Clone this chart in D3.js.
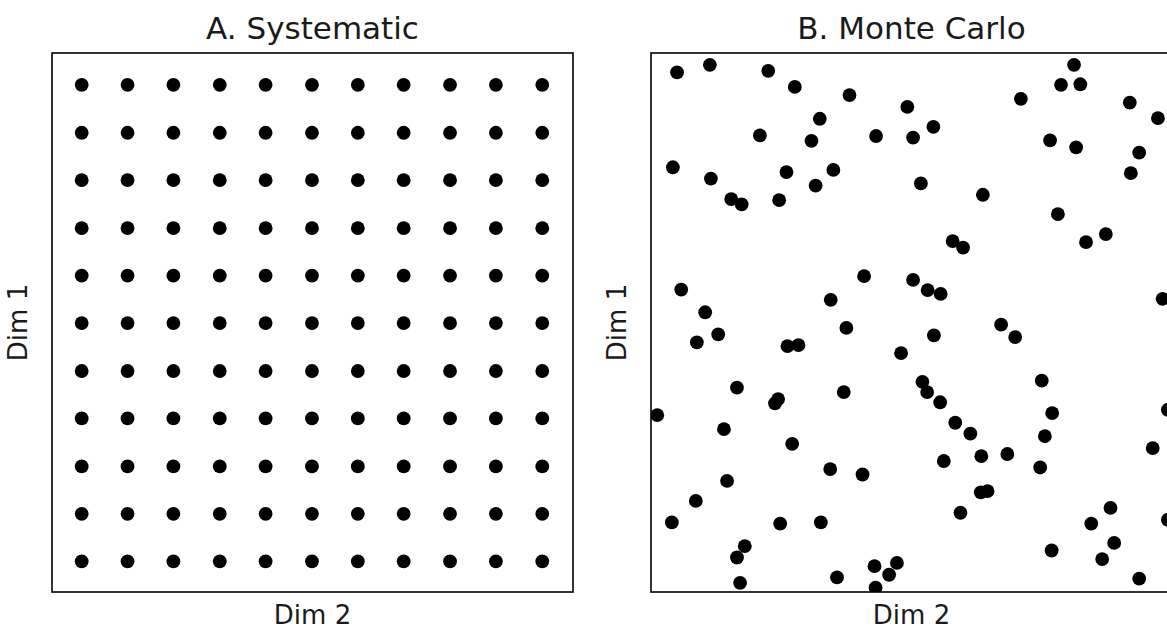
<!DOCTYPE html>
<html>
<head>
<meta charset="utf-8">
<script src="https://cdn.jsdelivr.net/npm/d3@7"></script>
<style>
    body { margin: 0; background: #fff; }
    svg { display: block; font-family: "DejaVu Sans", sans-serif; }
</style>
</head>
<body>
<svg id="vis"></svg>
<script>
// grid levels used for both dims in the systematic panel
var gridLevels = [0.057, 0.145, 0.233, 0.322, 0.410, 0.499, 0.587, 0.675, 0.764, 0.852, 0.941];

// Monte Carlo samples (0..1 on each dim)
var mcDim2 = [
    0.050, 0.113, 0.225, 0.276, 0.324, 0.209, 0.308, 0.042, 0.115, 0.260,
    0.316, 0.154, 0.174, 0.246, 0.058, 0.104, 0.381, 0.492, 0.542, 0.432,
    0.503, 0.350, 0.518, 0.637, 0.579, 0.599, 0.409, 0.503, 0.531, 0.556,
    0.345, 0.812, 0.787, 0.824, 0.710, 0.919, 0.973, 0.766, 0.816, 0.937,
    0.921, 0.781, 0.835, 0.873, 0.982, 0.088, 0.129, 0.262, 0.283, 0.165,
    0.244, 0.238, 0.012, 0.140, 0.271, 0.146, 0.086, 0.040, 0.248, 0.326,
    0.180, 0.165, 0.171, 0.375, 0.543, 0.480, 0.521, 0.530, 0.555, 0.370,
    0.584, 0.613, 0.634, 0.562, 0.344, 0.406, 0.633, 0.646, 0.594, 0.429,
    0.472, 0.457, 0.357, 0.431, 0.672, 0.699, 0.750, 0.770, 0.756, 0.684,
    0.747, 0.963, 0.992, 0.992, 0.882, 0.845, 0.889, 0.769, 0.866, 0.937
];
var mcDim1 = [
    0.964, 0.978, 0.967, 0.937, 0.878, 0.847, 0.837, 0.788, 0.767, 0.779,
    0.754, 0.729, 0.719, 0.727, 0.561, 0.519, 0.922, 0.900, 0.863, 0.846,
    0.843, 0.783, 0.758, 0.737, 0.651, 0.639, 0.586, 0.579, 0.560, 0.553,
    0.542, 0.978, 0.941, 0.942, 0.915, 0.908, 0.879, 0.838, 0.825, 0.815,
    0.777, 0.701, 0.649, 0.664, 0.544, 0.463, 0.478, 0.456, 0.458, 0.379,
    0.358, 0.350, 0.328, 0.302, 0.275, 0.206, 0.169, 0.129, 0.127, 0.129,
    0.085, 0.064, 0.017, 0.490, 0.476, 0.443, 0.390, 0.371, 0.352, 0.371,
    0.314, 0.294, 0.252, 0.243, 0.228, 0.218, 0.185, 0.187, 0.147, 0.048,
    0.054, 0.032, 0.027, 0.008, 0.496, 0.473, 0.392, 0.332, 0.289, 0.256,
    0.231, 0.267, 0.338, 0.134, 0.156, 0.127, 0.091, 0.077, 0.061, 0.025
];

var panelTitles = ["A. Systematic", "B. Monte Carlo"];
var xLabel = "Dim 2";
var yLabel = "Dim 1";

var systematicData = [];
gridLevels.forEach(function (gy) {
    gridLevels.forEach(function (gx) {
        systematicData.push({x: gx, y: gy});
    });
});
var monteCarloData = mcDim2.map(function (d, i) {
    return {x: d, y: mcDim1[i]};
});

var width = 1167, height = 629;
var panelW = 521, panelH = 539;
var panelLefts = [52, 651];
var panelTop = 53;

var svg = d3.select("#vis")
    .attr("width", width)
    .attr("height", height);

var xScale = d3.scaleLinear().domain([0, 1]).range([0, panelW]);
var yScale = d3.scaleLinear().domain([0, 1]).range([panelH, 0]);

function drawPanel(idx, data) {
    var g = svg.append("g")
        .attr("transform", "translate(" + panelLefts[idx] + "," + panelTop + ")");

    g.append("clipPath")
        .attr("id", "clip" + idx)
        .append("rect")
        .attr("width", panelW)
        .attr("height", panelH);

    g.append("g")
        .attr("clip-path", "url(#clip" + idx + ")")
        .selectAll(".dot")
        .data(data)
        .enter().append("circle")
        .attr("class", "dot")
        .attr("r", 6.9)
        .attr("cx", function (d) { return xScale(d.x); })
        .attr("cy", function (d) { return yScale(d.y); })
        .style("fill", "#000");

    g.append("rect")
        .attr("width", panelW)
        .attr("height", panelH)
        .style("fill", "none")
        .style("stroke", "#000")
        .style("stroke-width", 1.6);

    g.append("text")
        .attr("x", panelW / 2)
        .attr("y", -14)
        .style("text-anchor", "middle")
        .style("font-size", "31px")
        .style("fill", "#1a1a1a")
        .text(panelTitles[idx]);

    g.append("text")
        .attr("x", panelW / 2)
        .attr("y", panelH + 32)
        .style("text-anchor", "middle")
        .style("font-size", "26px")
        .style("fill", "#1a1a1a")
        .text(xLabel);

    g.append("text")
        .attr("transform", "translate(-25," + (panelH / 2) + ") rotate(-90)")
        .style("text-anchor", "middle")
        .style("font-size", "26px")
        .style("fill", "#1a1a1a")
        .text(yLabel);
}

drawPanel(0, systematicData);
drawPanel(1, monteCarloData);
</script>
</body>
</html>
